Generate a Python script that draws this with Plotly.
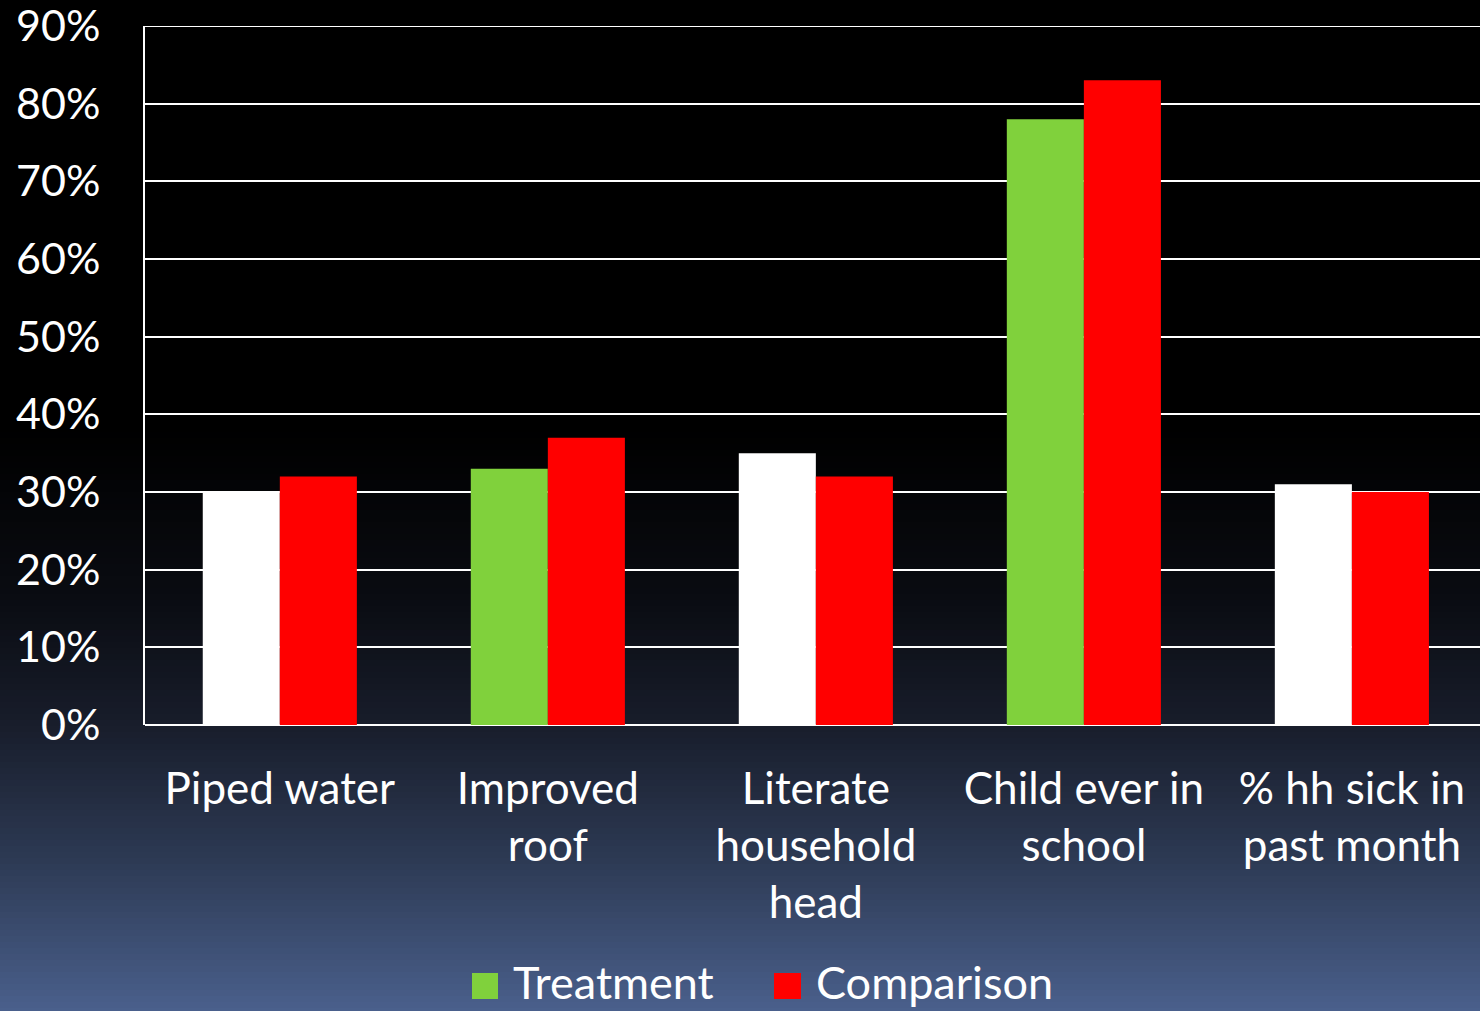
import plotly.graph_objects as go

categories = ["Piped water", "Improved<br>roof", "Literate<br>household<br>head",
              "Child ever in<br>school", "% hh sick in<br>past month"]
treatment = [0.30, 0.33, 0.35, 0.78, 0.31]
comparison = [0.32, 0.37, 0.32, 0.83, 0.30]
treatment_colors = ["#FFFFFF", "#80D13C", "#FFFFFF", "#80D13C", "#FFFFFF"]
series_names = ["Treatment", "Comparison"]
series_colors = ["#80D13C", "#FF0000"]
y_ticks = [0, 0.1, 0.2, 0.3, 0.4, 0.5, 0.6, 0.7, 0.8, 0.9]
y_ticklabels = ["0%", "10%", "20%", "30%", "40%", "50%", "60%", "70%", "80%", "90%"]

W, H = 1480, 1011
L, R, T, B = 145, 0, 26, 286
PW, PH = W - L - R, H - T - B

def px2x(p):
    return (p - L) / PW

def px2y(p):
    return (H - B - p) / PH

FONT = "Lato"

fig = go.Figure()
fig.add_trace(go.Bar(x=categories, y=treatment, name=series_names[0],
                     marker=dict(color=treatment_colors, line=dict(width=0)),
                     offsetgroup="T", showlegend=False))
fig.add_trace(go.Bar(x=categories, y=comparison, name=series_names[1],
                     marker=dict(color=series_colors[1], line=dict(width=0)),
                     offsetgroup="C", showlegend=False))

# background gradient
def bg_color(p):
    stops = [(0, (0, 0, 0)), (430, (0, 0, 0)), (600, (10, 12, 18)), (725, (24, 29, 43)),
             (860, (45, 58, 84)), (1011, (74, 96, 140))]
    for (p0, c0), (p1, c1) in zip(stops[:-1], stops[1:]):
        if p0 <= p <= p1:
            t = (p - p0) / (p1 - p0) if p1 > p0 else 0
            return "rgb(%d,%d,%d)" % tuple(round(a + (b - a) * t) for a, b in zip(c0, c1))
    return "rgb(74,96,140)"

shapes = []
step = 6
for p in range(0, H + step, step):
    shapes.append(dict(type="rect", xref="paper", yref="paper", layer="below",
                       x0=px2x(-5), x1=px2x(W + 5), y0=px2y(p + step + 1), y1=px2y(p),
                       fillcolor=bg_color(p + step / 2), line=dict(width=0)))

# top gridline (90%)
shapes.append(dict(type="line", xref="paper", yref="y", layer="below",
                   x0=0, x1=1, y0=y_ticks[-1], y1=y_ticks[-1],
                   line=dict(color="white", width=2)))

# manual legend
legend_items = [(472, 498, 511), (774, 801, 814)]
annotations = []
for (sx0, sx1, tx), name, col in zip(legend_items, series_names, series_colors):
    shapes.append(dict(type="rect", xref="paper", yref="paper", layer="above",
                       x0=px2x(sx0), x1=px2x(sx1), y0=px2y(999), y1=px2y(973),
                       fillcolor=col, line=dict(width=0)))
    annotations.append(dict(text=name, xref="paper", yref="paper", x=px2x(tx), y=px2y(982),
                            xanchor="left", yanchor="middle", showarrow=False,
                            font=dict(family=FONT, size=45, color="white")))

fig.update_layout(
    width=W, height=H,
    margin=dict(l=L, r=R, t=T, b=B, pad=0),
    paper_bgcolor="black", plot_bgcolor="rgba(0,0,0,0)",
    barmode="group", bargap=0.425, bargroupgap=0,
    shapes=shapes, annotations=annotations,
    showlegend=False,
    font=dict(family=FONT, color="white"),
)
fig.update_xaxes(range=[-0.503, 4.478], showgrid=False, showline=False, zeroline=False, ticks="",
                 tickfont=dict(family=FONT, size=44, color="white"),
                 ticklabelstandoff=34)
fig.update_yaxes(range=[0, 0.9], tickvals=y_ticks, ticktext=y_ticklabels,
                 showgrid=True, gridcolor="white", gridwidth=2,
                 zeroline=True, zerolinecolor="white", zerolinewidth=2,
                 showline=True, linecolor="white", linewidth=2,
                 ticks="", tickfont=dict(family=FONT, size=43, color="white"),
                 ticklabelstandoff=34, ticklabeloverflow="allow")

fig.write_html("out.html", config={"displayModeBar": False},
               post_script="document.body.style.margin='0';document.body.style.padding='0';"
                           "document.documentElement.style.background='black';")
